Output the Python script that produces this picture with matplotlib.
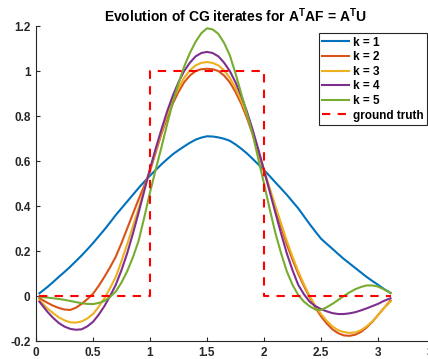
import numpy as np
import matplotlib
matplotlib.use("Agg")
import matplotlib.pyplot as plt

plt.rcParams['font.family'] = ['Liberation Sans', 'DejaVu Sans']
plt.rcParams['font.weight'] = 'bold'
plt.rcParams['mathtext.fontset'] = 'custom'
plt.rcParams['mathtext.rm'] = 'Liberation Sans:bold'
plt.rcParams['mathtext.bf'] = 'Liberation Sans:bold'

# sample positions
x = [0.03, 0.1, 0.15, 0.2, 0.25, 0.3, 0.35, 0.4, 0.45, 0.5,
     0.55, 0.6, 0.65, 0.7, 0.75, 0.8, 0.85, 0.9, 0.95, 1.0,
     1.05, 1.1, 1.15, 1.2, 1.25, 1.3, 1.35, 1.4, 1.45, 1.5,
     1.55, 1.6, 1.65, 1.7, 1.75, 1.8, 1.85, 1.9, 1.95, 2.0,
     2.05, 2.1, 2.15, 2.2, 2.25, 2.3, 2.35, 2.4, 2.45, 2.5,
     2.55, 2.6, 2.65, 2.7, 2.75, 2.8, 2.85, 2.9, 2.95, 3.0,
     3.05, 3.11]

# CG iterates k = 1..5
k1 = [0.012, 0.04, 0.062, 0.085, 0.107, 0.13, 0.155, 0.18, 0.207, 0.235,
      0.265, 0.295, 0.327, 0.36, 0.39, 0.42, 0.45, 0.48, 0.508, 0.535,
      0.56, 0.585, 0.608, 0.63, 0.648, 0.665, 0.681, 0.695, 0.704, 0.71,
      0.709, 0.705, 0.699, 0.69, 0.674, 0.655, 0.634, 0.61, 0.585, 0.56,
      0.533, 0.505, 0.478, 0.45, 0.42, 0.39, 0.355, 0.32, 0.287, 0.255,
      0.232, 0.21, 0.187, 0.165, 0.145, 0.125, 0.105, 0.085, 0.067, 0.05,
      0.032, 0.014]
k2 = [-0.01, -0.03, -0.043, -0.053, -0.06, -0.062, -0.052, -0.035, -0.014, 0.01,
      0.045, 0.085, 0.128, 0.175, 0.235, 0.30, 0.365, 0.43, 0.49, 0.555,
      0.638, 0.72, 0.792, 0.855, 0.907, 0.95, 0.98, 1.0, 1.008, 1.01,
      1.008, 1.0, 0.98, 0.95, 0.907, 0.855, 0.792, 0.72, 0.64, 0.555,
      0.472, 0.39, 0.31, 0.23, 0.162, 0.10, 0.045, -0.005, -0.05, -0.09,
      -0.122, -0.148, -0.165, -0.175, -0.177, -0.172, -0.16, -0.14, -0.115, -0.085,
      -0.055, -0.02]
k3 = [-0.018, -0.055, -0.076, -0.095, -0.108, -0.117, -0.118, -0.113, -0.1, -0.08,
      -0.048, -0.01, 0.035, 0.085, 0.155, 0.23, 0.31, 0.39, 0.475, 0.56,
      0.648, 0.73, 0.805, 0.87, 0.925, 0.97, 1.003, 1.025, 1.036, 1.04,
      1.036, 1.025, 1.003, 0.97, 0.925, 0.87, 0.805, 0.73, 0.647, 0.56,
      0.48, 0.40, 0.322, 0.245, 0.175, 0.11, 0.053, 0.0, -0.043, -0.08,
      -0.11, -0.135, -0.152, -0.16, -0.164, -0.162, -0.152, -0.135, -0.113, -0.085,
      -0.055, -0.025]
k4 = [-0.025, -0.07, -0.097, -0.12, -0.136, -0.146, -0.15, -0.148, -0.135, -0.115,
      -0.083, -0.045, 0.0, 0.05, 0.115, 0.19, 0.277, 0.37, 0.468, 0.565,
      0.655, 0.74, 0.82, 0.89, 0.95, 1.0, 1.037, 1.065, 1.08, 1.085,
      1.08, 1.065, 1.037, 1.0, 0.95, 0.89, 0.82, 0.74, 0.652, 0.56,
      0.465, 0.37, 0.278, 0.19, 0.115, 0.05, 0.008, -0.025, -0.045, -0.058,
      -0.068, -0.076, -0.08, -0.08, -0.077, -0.072, -0.064, -0.055, -0.045, -0.035,
      -0.022, -0.01]
k5 = [-0.003, -0.007, -0.01, -0.013, -0.017, -0.022, -0.027, -0.032, -0.035, -0.036,
      -0.031, -0.022, -0.004, 0.02, 0.06, 0.11, 0.172, 0.245, 0.35, 0.46,
      0.562, 0.66, 0.763, 0.86, 0.945, 1.02, 1.08, 1.13, 1.168, 1.19,
      1.185, 1.165, 1.125, 1.07, 0.99, 0.90, 0.812, 0.72, 0.61, 0.50,
      0.387, 0.28, 0.19, 0.11, 0.05, 0.005, -0.025, -0.045, -0.06, -0.062,
      -0.05, -0.035, -0.018, 0.0, 0.016, 0.03, 0.04, 0.047, 0.047, 0.042,
      0.03, 0.013]

# ground truth (box function)
gt_x = [0.03, 1, 1, 2, 2, 3.11]
gt_y = [0, 0, 1, 1, 0, 0]

series = [k1, k2, k3, k4, k5]
labels = ['k = 1', 'k = 2', 'k = 3', 'k = 4', 'k = 5']
colors = ['#0072BD', '#D95319', '#EDB120', '#7E2F8E', '#77AC30']

fig = plt.figure(figsize=(4.28, 3.59), dpi=100)
ax = fig.add_axes([0.0841, 0.0501, 0.9322, 0.8774])

for y, lab, c in zip(series, labels, colors):
    ax.plot(x, y, color=c, lw=1.5, label=lab)
ax.plot(gt_x, gt_y, '--', color='red', lw=1.5, label='ground truth', dashes=(4, 3.5))

ax.set_xlim(0, 3.5)
ax.set_ylim(-0.2, 1.2)
ax.set_xticks([0, 0.5, 1, 1.5, 2, 2.5, 3, 3.5])
ax.set_xticklabels(['0', '0.5', '1', '1.5', '2', '2.5', '3', '3.5'])
ax.set_yticks([-0.2, 0, 0.2, 0.4, 0.6, 0.8, 1, 1.2])
ax.set_yticklabels(['-0.2', '0', '0.2', '0.4', '0.6', '0.8', '1', '1.2'])

ax.spines['top'].set_visible(False)
ax.spines['right'].set_visible(False)
for s in ['left', 'bottom']:
    ax.spines[s].set_color('#262626')
    ax.spines[s].set_linewidth(0.8)
ax.tick_params(direction='in', length=3, width=0.8, colors='#262626',
               labelsize=8.5, pad=4)
for t in ax.get_xticklabels() + ax.get_yticklabels():
    t.set_fontweight('bold')

fig.text(235 / 428, 1 - 16 / 359,
         r'Evolution of CG iterates for A$^{\mathbf{T}}$AF = A$^{\mathbf{T}}$U',
         ha='center', va='center', fontsize=10, fontweight='bold')

leg = ax.legend(loc='upper right', bbox_to_anchor=(427 / 428, 1 - 33 / 359),
                bbox_transform=fig.transFigure, fontsize=8.5, frameon=True,
                fancybox=False, framealpha=1, edgecolor='#262626',
                handlelength=2.3, handletextpad=0.3, labelspacing=0.22,
                borderpad=0.3, borderaxespad=0)
leg.get_frame().set_linewidth(0.8)
for t in leg.get_texts():
    t.set_fontweight('bold')

fig.savefig('out.png', dpi=100)
